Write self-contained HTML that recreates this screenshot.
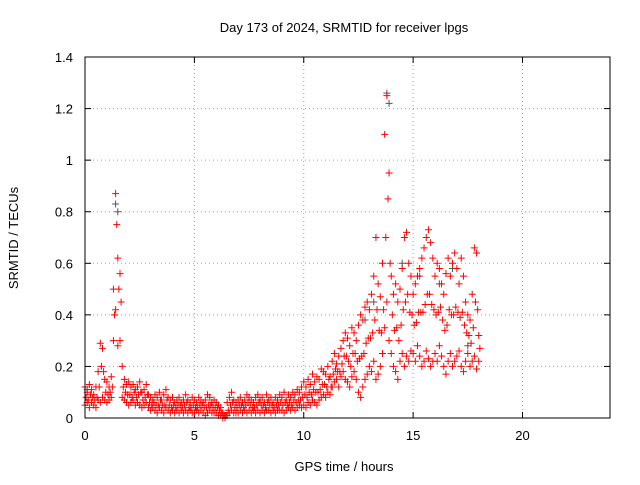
<!DOCTYPE html>
<html><head><meta charset="utf-8"><style>
body{margin:0;background:#fff}
svg text{font-family:"Liberation Sans",sans-serif;font-size:13px;fill:#000}
</style></head><body>
<svg id="c" width="640" height="480">
<text x="344" y="32" text-anchor="middle" font-size="14">Day 173 of 2024, SRMTID for receiver lpgs</text>
<text x="344" y="471" text-anchor="middle">GPS time / hours</text>
<text transform="translate(18,238) rotate(-90)" text-anchor="middle">SRMTID / TECUs</text>
<g id="grid"></g><g id="ticks"></g><g id="marks"></g>
<rect x="85" y="57" width="525" height="361" fill="none" stroke="#000"/>
</svg>
<script>
const xTicks=[0,5,10,15,20];
const yTicks=[0,0.2,0.4,0.6,0.8,1,1.2,1.4];
const yTickLabels=["0","0.2","0.4","0.6","0.8","1","1.2","1.4"];
const tStart=0, tStep=0.1;
const hiVals=[0.12,0.10,0.13,0.11,0.09,0.12,0.18,0.29,0.27,0.15,
0.14,0.12,0.16,0.50,0.87,0.62,0.56,0.20,0.15,0.13,
0.14,0.12,0.13,0.11,0.12,0.14,0.10,0.11,0.13,0.09,
0.08,0.07,0.09,0.08,0.10,0.07,0.09,0.11,0.08,0.07,
0.08,0.06,0.07,0.08,0.06,0.07,0.09,0.07,0.06,0.08,
0.07,0.06,0.08,0.07,0.06,0.07,0.09,0.08,0.06,0.07,
0.06,0.05,0.04,0.02,0.01,0.06,0.08,0.10,0.07,0.06,
0.07,0.08,0.06,0.07,0.09,0.08,0.07,0.06,0.08,0.09,
0.07,0.08,0.06,0.09,0.07,0.08,0.06,0.08,0.07,0.09,
0.08,0.10,0.07,0.09,0.08,0.10,0.09,0.11,0.10,0.12,
0.14,0.12,0.15,0.13,0.17,0.14,0.16,0.15,0.19,0.18,
0.17,0.20,0.16,0.22,0.25,0.21,0.24,0.27,0.30,0.33,
0.31,0.28,0.35,0.33,0.30,0.36,0.40,0.38,0.43,0.45,
0.42,0.48,0.55,0.70,0.52,0.47,0.60,1.10,1.25,0.95,
0.55,0.48,0.52,0.45,0.50,0.58,0.70,0.72,0.60,0.55,
0.48,0.52,0.55,0.58,0.62,0.66,0.70,0.73,0.68,0.62,
0.55,0.60,0.58,0.52,0.48,0.56,0.62,0.55,0.60,0.64,
0.58,0.52,0.62,0.55,0.45,0.40,0.38,0.48,0.66,0.64,0.32];
const midVals=[0.08,0.07,0.09,0.08,0.07,0.08,0.12,0.20,0.18,0.10,
0.09,0.10,0.12,0.40,0.75,0.50,0.45,0.12,0.10,0.09,
0.09,0.08,0.10,0.08,0.09,0.10,0.07,0.08,0.09,0.06,
0.05,0.06,0.05,0.05,0.07,0.05,0.05,0.07,0.05,0.04,
0.05,0.04,0.05,0.05,0.04,0.05,0.06,0.04,0.04,0.05,
0.04,0.04,0.05,0.05,0.04,0.04,0.05,0.05,0.04,0.04,
0.04,0.03,0.02,0.01,0.01,0.03,0.05,0.06,0.04,0.04,
0.05,0.05,0.04,0.05,0.06,0.05,0.04,0.04,0.05,0.06,
0.05,0.05,0.04,0.06,0.05,0.05,0.04,0.05,0.05,0.06,
0.05,0.06,0.05,0.06,0.05,0.07,0.06,0.07,0.07,0.08,
0.09,0.08,0.10,0.09,0.11,0.10,0.10,0.11,0.13,0.13,
0.12,0.15,0.12,0.17,0.19,0.18,0.18,0.21,0.24,0.24,
0.22,0.20,0.25,0.25,0.22,0.23,0.24,0.25,0.29,0.31,
0.31,0.33,0.38,0.42,0.34,0.33,0.42,0.70,0.85,0.60,
0.40,0.34,0.35,0.30,0.36,0.42,0.45,0.48,0.41,0.40,
0.36,0.37,0.41,0.41,0.41,0.44,0.48,0.48,0.44,0.42,
0.40,0.41,0.43,0.38,0.34,0.36,0.42,0.40,0.40,0.43,
0.41,0.39,0.41,0.36,0.33,0.32,0.29,0.35,0.45,0.42,0.27];
const loVals=[0.05,0.06,0.04,0.06,0.05,0.04,0.07,0.06,0.08,0.07,
0.06,0.07,0.08,0.30,0.42,0.28,0.30,0.08,0.07,0.06,
0.05,0.06,0.07,0.05,0.06,0.05,0.04,0.05,0.06,0.04,
0.03,0.04,0.03,0.02,0.04,0.03,0.02,0.04,0.03,0.02,
0.03,0.02,0.03,0.02,0.03,0.02,0.03,0.02,0.03,0.02,
0.02,0.03,0.02,0.03,0.02,0.01,0.02,0.03,0.02,0.02,
0.02,0.01,0.01,0.00,0.00,0.01,0.02,0.03,0.02,0.02,
0.02,0.03,0.02,0.03,0.02,0.03,0.02,0.03,0.02,0.03,
0.02,0.03,0.02,0.03,0.03,0.02,0.03,0.02,0.03,0.03,
0.03,0.02,0.03,0.04,0.03,0.04,0.03,0.04,0.05,0.04,
0.05,0.04,0.06,0.05,0.07,0.06,0.05,0.07,0.08,0.09,
0.08,0.10,0.09,0.12,0.14,0.15,0.12,0.16,0.18,0.15,
0.14,0.12,0.16,0.18,0.15,0.10,0.08,0.12,0.15,0.17,
0.20,0.18,0.22,0.15,0.17,0.20,0.25,0.35,0.45,0.30,
0.25,0.20,0.18,0.15,0.22,0.25,0.20,0.24,0.22,0.26,
0.25,0.22,0.28,0.24,0.20,0.22,0.26,0.23,0.20,0.22,
0.25,0.22,0.28,0.24,0.20,0.17,0.22,0.25,0.20,0.22,
0.24,0.26,0.20,0.18,0.22,0.25,0.20,0.22,0.24,0.19,0.22];
const grayTimes=[0.1,1.4,1.5,12.8,13.2,13.8,13.9,14.5,15.3,16.2,16.8,17.5];
const grayVals=[0.11,0.83,0.80,0.38,0.45,1.26,1.22,0.60,0.55,0.52,0.58,0.28];
const X0=85,X1=610,Y0=418,Y1=57,XMAX=24,YMAX=1.4;
const xs=v=>X0+(X1-X0)*v/XMAX, ys=v=>Y0-(Y0-Y1)*v/YMAX;
const NS="http://www.w3.org/2000/svg";
function mk(tag,attrs,parent){const e=document.createElementNS(NS,tag);for(const k in attrs)e.setAttribute(k,attrs[k]);parent.appendChild(e);return e;}
const grid=document.getElementById('grid'),ticks=document.getElementById('ticks'),marks=document.getElementById('marks');
xTicks.forEach(v=>{const x=xs(v);
 if(v>0){const g=mk('line',{x1:x,x2:x,y1:Y1,y2:Y0,stroke:'#a0a0a0','stroke-dasharray':'1,3'},grid);
 
 }
 mk('line',{x1:x,x2:x,y1:Y0,y2:Y0-6,stroke:'#000'},ticks);mk('line',{x1:x,x2:x,y1:Y1,y2:Y1+6,stroke:'#000'},ticks);
 const t=mk('text',{x:x,y:Y0+22,'text-anchor':'middle'},ticks);t.textContent=v;
 
 });
yTicks.forEach((v,i)=>{const y=ys(v);
 if(v>0&&v<YMAX){const g=mk('line',{x1:X0,x2:X1,y1:y,y2:y,stroke:'#a0a0a0','stroke-dasharray':'1,3'},grid);
 
 }
 mk('line',{x1:X0,x2:X0+6,y1:y,y2:y,stroke:'#000'},ticks);mk('line',{x1:X1,x2:X1-6,y1:y,y2:y,stroke:'#000'},ticks);
 const t=mk('text',{x:X0-12,y:y+5,'text-anchor':'end'},ticks);t.textContent=yTickLabels[i];
 
 });
function plus(t,v,col,name){const x=xs(t),y=ys(v);
 const p=mk('path',{d:`M${x-3.5},${y}h7M${x},${y-3.5}v7`,stroke:col,'stroke-width':1,fill:'none'},marks);
 
 }
grayTimes.forEach((t,i)=>plus(t,grayVals[i],'#555','gray-point'));
hiVals.forEach((v,i)=>plus(tStart+i*tStep,v,'#f00','red-point-high'));
midVals.forEach((v,i)=>plus(tStart+i*tStep+0.05,v,'#f00','red-point-mid'));
loVals.forEach((v,i)=>plus(tStart+i*tStep,v,'#f00','red-point-low'));
</script>
</body></html>
